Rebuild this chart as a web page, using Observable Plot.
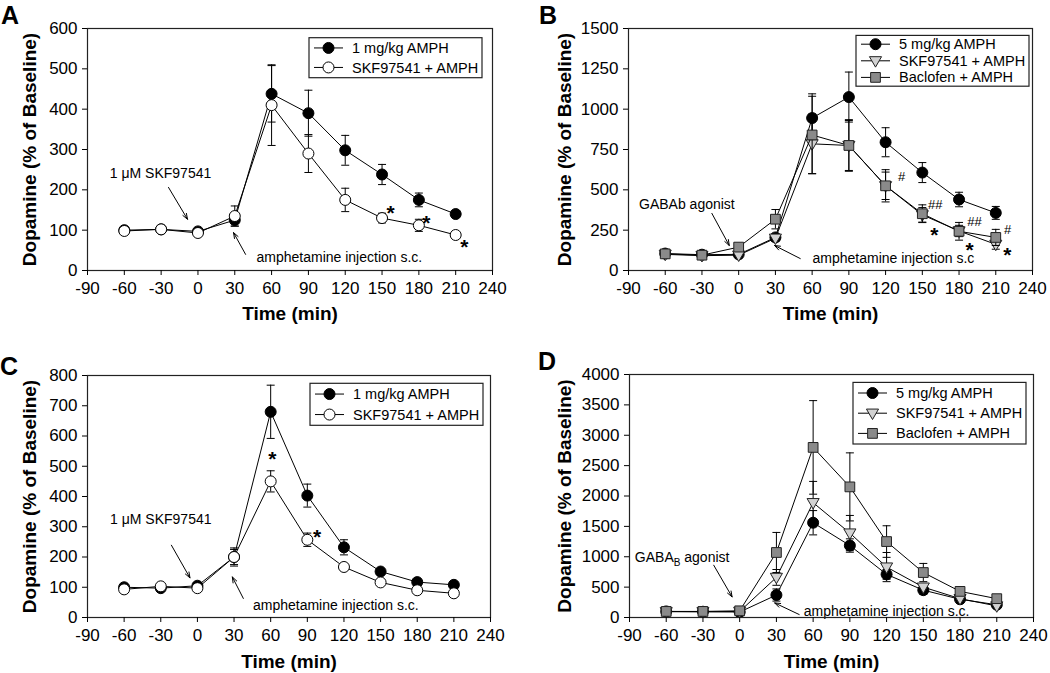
<!DOCTYPE html>
<html><head><meta charset="utf-8">
<script src="https://cdn.jsdelivr.net/npm/d3@7"></script>
<script src="https://cdn.jsdelivr.net/npm/@observablehq/plot@0.6"></script>
<style>
body{margin:0;background:#fff;font-family:"Liberation Sans",Arial,sans-serif;}
#wrap{position:relative;width:1050px;height:673px;overflow:hidden;background:#fff}
.panel{position:absolute}
.letter{position:absolute;font-weight:bold;font-size:25px;line-height:1.2;font-family:"Liberation Sans",Arial,sans-serif}
</style></head><body><div id="wrap"></div>
<script>
// ---------- data ----------
const time = [-60, -30, 0, 30, 60, 90, 120, 150, 180, 210];
const xTicks = [-90, -60, -30, 0, 30, 60, 90, 120, 150, 180, 210, 240];

// Panel A
const aYTicks = [0, 100, 200, 300, 400, 500, 600];
const aAmph = [100, 102, 97, 125, 438, 390, 298, 238, 175, 140];
const aAmphErr = [5, 5, 5, 15, 70, 57, 37, 25, 17, 8];
const aSkf = [98, 102, 93, 135, 410, 290, 175, 130, 112, 88];
const aSkfErr = [5, 5, 6, 25, 100, 47, 29, 12, 15, 5];
const aNoteText = ["1 μM SKF97541", "amphetamine injection s.c."];
const aNoteX = [-30.5, 47.7];
const aNoteY = [240, 33];
const aArrowX1 = [-24, 38.8], aArrowY1 = [206, 40], aArrowX2 = [-8.5, 29], aArrowY2 = [127, 94];
const aStarX = [157, 186, 217], aStarY = [155, 130, 70];

// Panel B
const bYTicks = [0, 250, 500, 750, 1000, 1250, 1500];
const bAmph = [105, 98, 100, 205, 945, 1075, 795, 607, 440, 357];
const bAmphErr = [10, 10, 10, 20, 150, 155, 90, 62, 45, 40];
const bSkf = [100, 92, 95, 200, 785, 775, 525, 345, 245, 162];
const bSkfErr = [10, 10, 10, 20, 185, 155, 85, 45, 35, 30];
const bBac = [103, 95, 145, 318, 840, 775, 525, 352, 243, 205];
const bBacErr = [10, 10, 15, 60, 240, 160, 100, 55, 55, 50];
const bNoteText = ["GABAb agonist", "amphetamine injection s.c"];
const bNoteX = [-42.3, 60.3];
const bNoteY = [410, 73];
const bArrowX1 = [-21.9, 50.3], bArrowY1 = [354, 74], bArrowX2 = [-7.7, 29.3], bArrowY2 = [155, 155];
const bHashText = ["#", "##", "##", "#"];
const bHashX = [133, 160.5, 192.7, 219.7], bHashY = [580, 410, 300, 253];
const bStarX = [159.8, 188.7, 219.5], bStarY = [248, 155, 124];

// Panel C
const cYTicks = [0, 100, 200, 300, 400, 500, 600, 700, 800];
const cAmph = [100, 97, 105, 200, 680, 403, 232, 152, 117, 108];
const cAmphErr = [5, 5, 5, 30, 88, 38, 25, 8, 6, 5];
const cSkf = [93, 103, 97, 200, 450, 257, 167, 116, 90, 80];
const cSkfErr = [5, 5, 5, 25, 35, 22, 8, 6, 5, 4];
const cNoteText = ["1 μM SKF97541", "amphetamine injection s.c."];
const cNoteX = [-30, 45.5];
const cNoteY = [324, 40];
const cArrowX1 = [-21.3, 37.6], cArrowY1 = [239, 63], cArrowX2 = [-6.1, 28.6], cArrowY2 = [131, 134];
const cStarX = [61.3, 98], cStarY = [539, 281];

// Panel D
const dYTicks = [0, 500, 1000, 1500, 2000, 2500, 3000, 3500, 4000];
const dAmph = [100, 95, 90, 370, 1560, 1185, 710, 450, 300, 210];
const dAmphErr = [10, 10, 10, 100, 200, 110, 80, 70, 40, 20];
const dSkf = [95, 95, 100, 660, 1890, 1390, 830, 500, 310, 190];
const dSkfErr = [10, 10, 10, 130, 350, 290, 240, 60, 40, 20];
const dBac = [100, 100, 110, 1070, 2800, 2150, 1250, 740, 430, 310];
const dBacErr = [10, 10, 10, 330, 770, 560, 260, 150, 50, 30];
const dNoteText = ["GABA_B agonist", "amphetamine injection s.c."];
const dNoteX = [-47, 52.3];
const dNoteY = [988, 92];
const dArrowX1 = [-21.2, 48.6], dArrowY1 = [861, 49], dArrowX2 = [-6.2, 28.6], dArrowY2 = [339, 240];

const yLabel = "Dopamine (% of Baseline)";
const xLabel = "Time (min)";

// ---------- symbols & styles ----------
const triangleDown = {
  draw(ctx, size) {
    const r = Math.sqrt(size / Math.PI);
    ctx.moveTo(-1.1 * r, -0.75 * r);
    ctx.lineTo(1.1 * r, -0.75 * r);
    ctx.lineTo(0, 1.15 * r);
    ctx.closePath();
  }
};
const capSym = {
  draw(ctx, size) {
    const r = Math.sqrt(size / Math.PI);
    ctx.moveTo(-r, 0);
    ctx.lineTo(r, 0);
  }
};
const styles = {
  filled: {symbol: d3.symbolCircle, fill: "#000", stroke: "#000"},
  open: {symbol: d3.symbolCircle, fill: "#fff", stroke: "#000"},
  tri: {symbol: triangleDown, fill: "#d2d2d2", stroke: "#222"},
  square: {symbol: d3.symbolSquare, fill: "#8a8a8a", stroke: "#222"}
};
const DOT_R = 5.5;
const FONT = "Liberation Sans, Arial, sans-serif";

const toRows = (v, e) => time.map((t, i) => ({t, v: v[i], e: e[i]}));
const zip = (xs, ys, ts) => xs.map((x, i) => ({x, y: ys[i], text: ts ? ts[i] : "*"}));

const panels = [
  {letter: "A", left: 0, top: 0, width: 525, height: 330, m: [28, 33, 60, 87], yMax: 600, yTicks: aYTicks,
   series: [{name: "1 mg/kg AMPH", style: "filled", v: aAmph, e: aAmphErr},
            {name: "SKF97541 + AMPH", style: "open", v: aSkf, e: aSkfErr}],
   notes: {text: aNoteText, x: aNoteX, y: aNoteY}, arrows: [aArrowX1, aArrowY1, aArrowX2, aArrowY2],
   stars: zip(aStarX, aStarY), hashes: [],
   legend: {inset: 10, top: 9.7, rowH: 19.5}, yDx: -58, xDy: 43, letterPos: [1, 0]},
  {letter: "B", left: 525, top: 0, width: 525, height: 330, m: [28, 18, 60, 103], yMax: 1500, yTicks: bYTicks,
   series: [{name: "5 mg/kg AMPH", style: "filled", v: bAmph, e: bAmphErr},
            {name: "SKF97541 + AMPH", style: "tri", v: bSkf, e: bSkfErr},
            {name: "Baclofen + AMPH", style: "square", v: bBac, e: bBacErr}],
   notes: {text: bNoteText, x: bNoteX, y: bNoteY}, arrows: [bArrowX1, bArrowY1, bArrowX2, bArrowY2],
   stars: zip(bStarX, bStarY), hashes: zip(bHashX, bHashY, bHashText),
   legend: {inset: 3, top: 7.4, rowH: 16.6}, yDx: -64, xDy: 43, letterPos: [539, 0]},
  {letter: "C", left: 0, top: 330, width: 525, height: 343, m: [45, 35, 56, 87], yMax: 800, yTicks: cYTicks,
   series: [{name: "1 mg/kg AMPH", style: "filled", v: cAmph, e: cAmphErr},
            {name: "SKF97541 + AMPH", style: "open", v: cSkf, e: cSkfErr}],
   notes: {text: cNoteText, x: cNoteX, y: cNoteY}, arrows: [cArrowX1, cArrowY1, cArrowX2, cArrowY2],
   stars: zip(cStarX, cStarY), hashes: [],
   legend: {inset: 7, top: 8.3, rowH: 20.5}, yDx: -58, xDy: 44, letterPos: [0, 351]},
  {letter: "D", left: 525, top: 330, width: 525, height: 343, m: [44, 17, 56, 104], yMax: 4000, yTicks: dYTicks,
   series: [{name: "5 mg/kg AMPH", style: "filled", v: dAmph, e: dAmphErr},
            {name: "SKF97541 + AMPH", style: "tri", v: dSkf, e: dSkfErr},
            {name: "Baclofen + AMPH", style: "square", v: dBac, e: dBacErr}],
   notes: {text: dNoteText, x: dNoteX, y: dNoteY}, arrows: [dArrowX1, dArrowY1, dArrowX2, dArrowY2],
   stars: [], hashes: [],
   legend: {inset: 7, top: 8.4, rowH: 20.2}, yDx: -65, xDy: 44, letterPos: [538, 346]}
];

const wrap = document.getElementById("wrap");

for (const p of panels) {
  const [mt, mr, mb, ml] = p.m;
  const marks = [];
  for (const s of p.series) {
    const rows = toRows(s.v, s.e);
    const st = styles[s.style];
    marks.push(
      Plot.line(rows, {x: "t", y: "v", stroke: "#000", strokeWidth: 1}),
      Plot.ruleX(rows, {x: "t", y1: d => d.v - d.e, y2: d => d.v + d.e, stroke: "#000", strokeWidth: 1}),
      Plot.dot(rows, {x: "t", y: d => d.v + d.e, symbol: capSym, r: 4, stroke: "#000", fill: "none", strokeWidth: 1}),
      Plot.dot(rows, {x: "t", y: d => d.v - d.e, symbol: capSym, r: 4, stroke: "#000", fill: "none", strokeWidth: 1}),
      Plot.dot(rows, {x: "t", y: "v", symbol: st.symbol, r: DOT_R, fill: st.fill, stroke: st.stroke, strokeWidth: 1})
    );
  }
  const [ax1, ay1, ax2, ay2] = p.arrows;
  const arrowRows = ax1.map((x, i) => ({x1: x, y1: ay1[i], x2: ax2[i], y2: ay2[i]}));
  const noteRows = p.notes.text.map((t, i) => ({text: t, x: p.notes.x[i], y: p.notes.y[i]}));
  marks.push(
    Plot.arrow(arrowRows, {x1: "x1", y1: "y1", x2: "x2", y2: "y2", stroke: "#000", strokeWidth: 1, headLength: 9, headAngle: 40}),
    Plot.text(noteRows.slice(0, 1), {x: "x", y: "y", text: "text", fontSize: 14, textAnchor: "middle", fill: "#000"}),
    Plot.text(noteRows.slice(1), {x: "x", y: "y", text: "text", fontSize: 14, textAnchor: "start", fill: "#000"}),
    Plot.text(p.stars, {x: "x", y: "y", text: "text", fontSize: 21, fontWeight: "bold", dy: 5, fill: "#000"}),
    Plot.text(p.hashes, {x: "x", y: "y", text: "text", fontSize: 13, fill: "#000"}),
    Plot.frame({stroke: "#222", strokeWidth: 1.2}),
    Plot.axisX({ticks: xTicks, tickSize: 5, tickPadding: 6, fontSize: 17, label: null, tickFormat: d => String(d)}),
    Plot.axisY({ticks: p.yTicks, tickSize: 5, tickPadding: 5, fontSize: 17, label: null, tickFormat: d => String(d)}),
    Plot.text([yLabel], {text: d => d, frameAnchor: "left", textAnchor: "middle", lineAnchor: "middle", rotate: -90, dx: p.yDx, fontSize: 19, fontWeight: "bold", fill: "#000"}),
    Plot.text([xLabel], {text: d => d, frameAnchor: "bottom", textAnchor: "middle", lineAnchor: "middle", dy: p.xDy, fontSize: 19, fontWeight: "bold", fill: "#000"})
  );

  const svg = Plot.plot({
    width: p.width, height: p.height,
    marginTop: mt, marginRight: mr, marginBottom: mb, marginLeft: ml,
    x: {domain: [-90, 240]},
    y: {domain: [0, p.yMax]},
    style: {fontFamily: FONT, color: "#000", background: "transparent", overflow: "visible"},
    marks
  });

  // subscript fix for GABA_B
  svg.querySelectorAll("text").forEach(t => {
    if (t.textContent === "GABA_B agonist") {
      t.textContent = "";
      const ns = "http://www.w3.org/2000/svg";
      const a = document.createElementNS(ns, "tspan"); a.textContent = "GABA";
      const b = document.createElementNS(ns, "tspan"); b.textContent = "B";
      b.setAttribute("font-size", "10"); b.setAttribute("dy", "4");
      const c = document.createElementNS(ns, "tspan"); c.textContent = " agonist"; c.setAttribute("dy", "-4");
      t.append(a, b, c);
    }
  });

  // legend (inside the frame, top-right)
  const L = p.legend;
  const lw = 173, lh = L.rowH * p.series.length + 1;
  const lx = p.width - mr - L.inset - lw;
  const ly = mt + L.top;
  const g = d3.select(svg).append("g").attr("font-family", FONT).attr("text-anchor", "start");
  g.append("rect").attr("x", lx).attr("y", ly).attr("width", lw).attr("height", lh)
    .attr("fill", "#fff").attr("stroke", "#222").attr("stroke-width", 1.2);
  p.series.forEach((s, i) => {
    const cy = ly + 0.5 + L.rowH * (i + 0.5);
    const st = styles[s.style];
    g.append("line").attr("x1", lx + 5).attr("x2", lx + 34).attr("y1", cy).attr("y2", cy)
      .attr("stroke", "#000").attr("stroke-width", 1);
    g.append("path").attr("transform", `translate(${lx + 19.5},${cy})`)
      .attr("d", d3.symbol(st.symbol, Math.PI * DOT_R * DOT_R)())
      .attr("fill", st.fill).attr("stroke", st.stroke).attr("stroke-width", 1);
    g.append("text").attr("x", lx + 43).attr("y", cy).attr("dy", "0.35em")
      .attr("text-anchor", "start")
      .attr("font-size", 14.5).attr("fill", "#000").text(s.name);
  });

  svg.classList.add("panel");
  svg.style.left = p.left + "px";
  svg.style.top = p.top + "px";
  wrap.appendChild(svg);

  const lt = document.createElement("div");
  lt.className = "letter";
  lt.textContent = p.letter;
  lt.style.left = p.letterPos[0] + "px";
  lt.style.top = p.letterPos[1] + "px";
  wrap.appendChild(lt);
}
</script>
</body></html>
